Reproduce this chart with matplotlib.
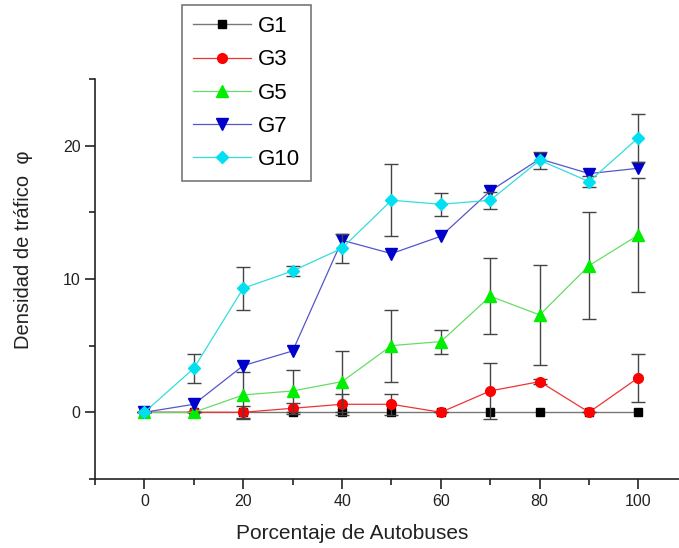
import numpy as np
import matplotlib
matplotlib.use("Agg")
import matplotlib.pyplot as plt
from matplotlib.ticker import MultipleLocator

plt.rcParams['font.family'] = ['Liberation Sans', 'DejaVu Sans']

# Data
bus_pct = [0, 10, 20, 30, 40, 50, 60, 70, 80, 90, 100]

g1 = [0, 0, 0, 0, 0, 0, 0, 0, 0, 0, 0]
g3 = [0, 0, 0, 0.3, 0.6, 0.6, 0, 1.6, 2.3, 0, 2.6]
g3_err = [0, 0, 0.5, 0.4, 0.8, 0.8, 0, 2.1, 0.2, 0, 1.8]
g5 = [0, 0, 1.3, 1.6, 2.3, 5.0, 5.3, 8.7, 7.3, 11.0, 13.3]
g5_err = [0, 0, 1.7, 1.6, 2.3, 2.7, 0.9, 2.85, 3.75, 4.0, 4.25]
g7 = [0, 0.6, 3.5, 4.6, 12.9, 11.9, 13.2, 16.6, 19.0, 17.9, 18.3]
g10 = [0, 3.3, 9.3, 10.6, 12.3, 15.9, 15.6, 15.9, 18.9, 17.3, 20.6]
g10_err = [0, 1.1, 1.6, 0.4, 1.1, 2.7, 0.85, 0.65, 0.65, 0.4, 1.8]

labels = ['G1', 'G3', 'G5', 'G7', 'G10']

fig = plt.figure(figsize=(6.79, 5.48), dpi=100)
ax = fig.add_axes([0.140, 0.126, 0.860, 0.730])

ebar_kw = dict(ecolor='#444444', elinewidth=1.0, capsize=5, capthick=1.0, fmt='none')

ax.plot(bus_pct, g1, color='#777777', lw=1.0, marker='s', ms=6,
        mfc='black', mec='black', label=labels[0])

ax.errorbar(bus_pct, g3, yerr=g3_err, **ebar_kw)
ax.plot(bus_pct, g3, color='#ee3333', lw=0.9, marker='o', ms=7,
        mfc='red', mec='red', label=labels[1])

ax.errorbar(bus_pct, g5, yerr=g5_err, **ebar_kw)
ax.plot(bus_pct, g5, color='#66dd66', lw=0.9, marker='^', ms=8,
        mfc='#00ee00', mec='#00ee00', label=labels[2])

ax.plot(bus_pct, g7, color='#5555cc', lw=0.9, marker='v', ms=8,
        mfc='#0000cc', mec='#0000cc', label=labels[3])

ax.errorbar(bus_pct, g10, yerr=g10_err, **ebar_kw)
ax.plot(bus_pct, g10, color='#33dddd', lw=0.9, marker='D', ms=6,
        mfc='#00e0f0', mec='#00e0f0', label=labels[4])

ax.set_xlim(-10, 108.2)
ax.set_ylim(-5, 25)
ax.xaxis.set_major_locator(MultipleLocator(20))
ax.xaxis.set_minor_locator(MultipleLocator(10))
ax.yaxis.set_major_locator(MultipleLocator(10))
ax.yaxis.set_minor_locator(MultipleLocator(5))

for side in ['top', 'right']:
    ax.spines[side].set_visible(False)
for side in ['left', 'bottom']:
    ax.spines[side].set_linewidth(1.2)
    ax.spines[side].set_color('#222222')

ax.tick_params(which='major', direction='out', length=7, width=1.2,
               labelsize=11.5, colors='#222222')
ax.tick_params(which='minor', direction='out', length=4, width=1.2,
               colors='#222222')

ax.set_xlabel('Porcentaje de Autobuses', fontsize=15, color='#222222')
ax.set_ylabel('Densidad de tráfico  φ', fontsize=14.5, color='#222222')
# labels sit off-centre in the original
ax.xaxis.set_label_coords(0.44, -0.1125)
ax.yaxis.set_label_coords(-0.106, 0.5725)

leg = fig.legend(loc='upper left', bbox_to_anchor=(182 / 679, 1 - 5 / 548),
                 fontsize=16, frameon=True, fancybox=False, framealpha=1,
                 edgecolor='#777777', handlelength=2.6, labelspacing=0.55,
                 borderpad=0.5, handletextpad=0.3, borderaxespad=0)
leg.get_frame().set_linewidth(1.2)

fig.savefig('out.png', dpi=100)
